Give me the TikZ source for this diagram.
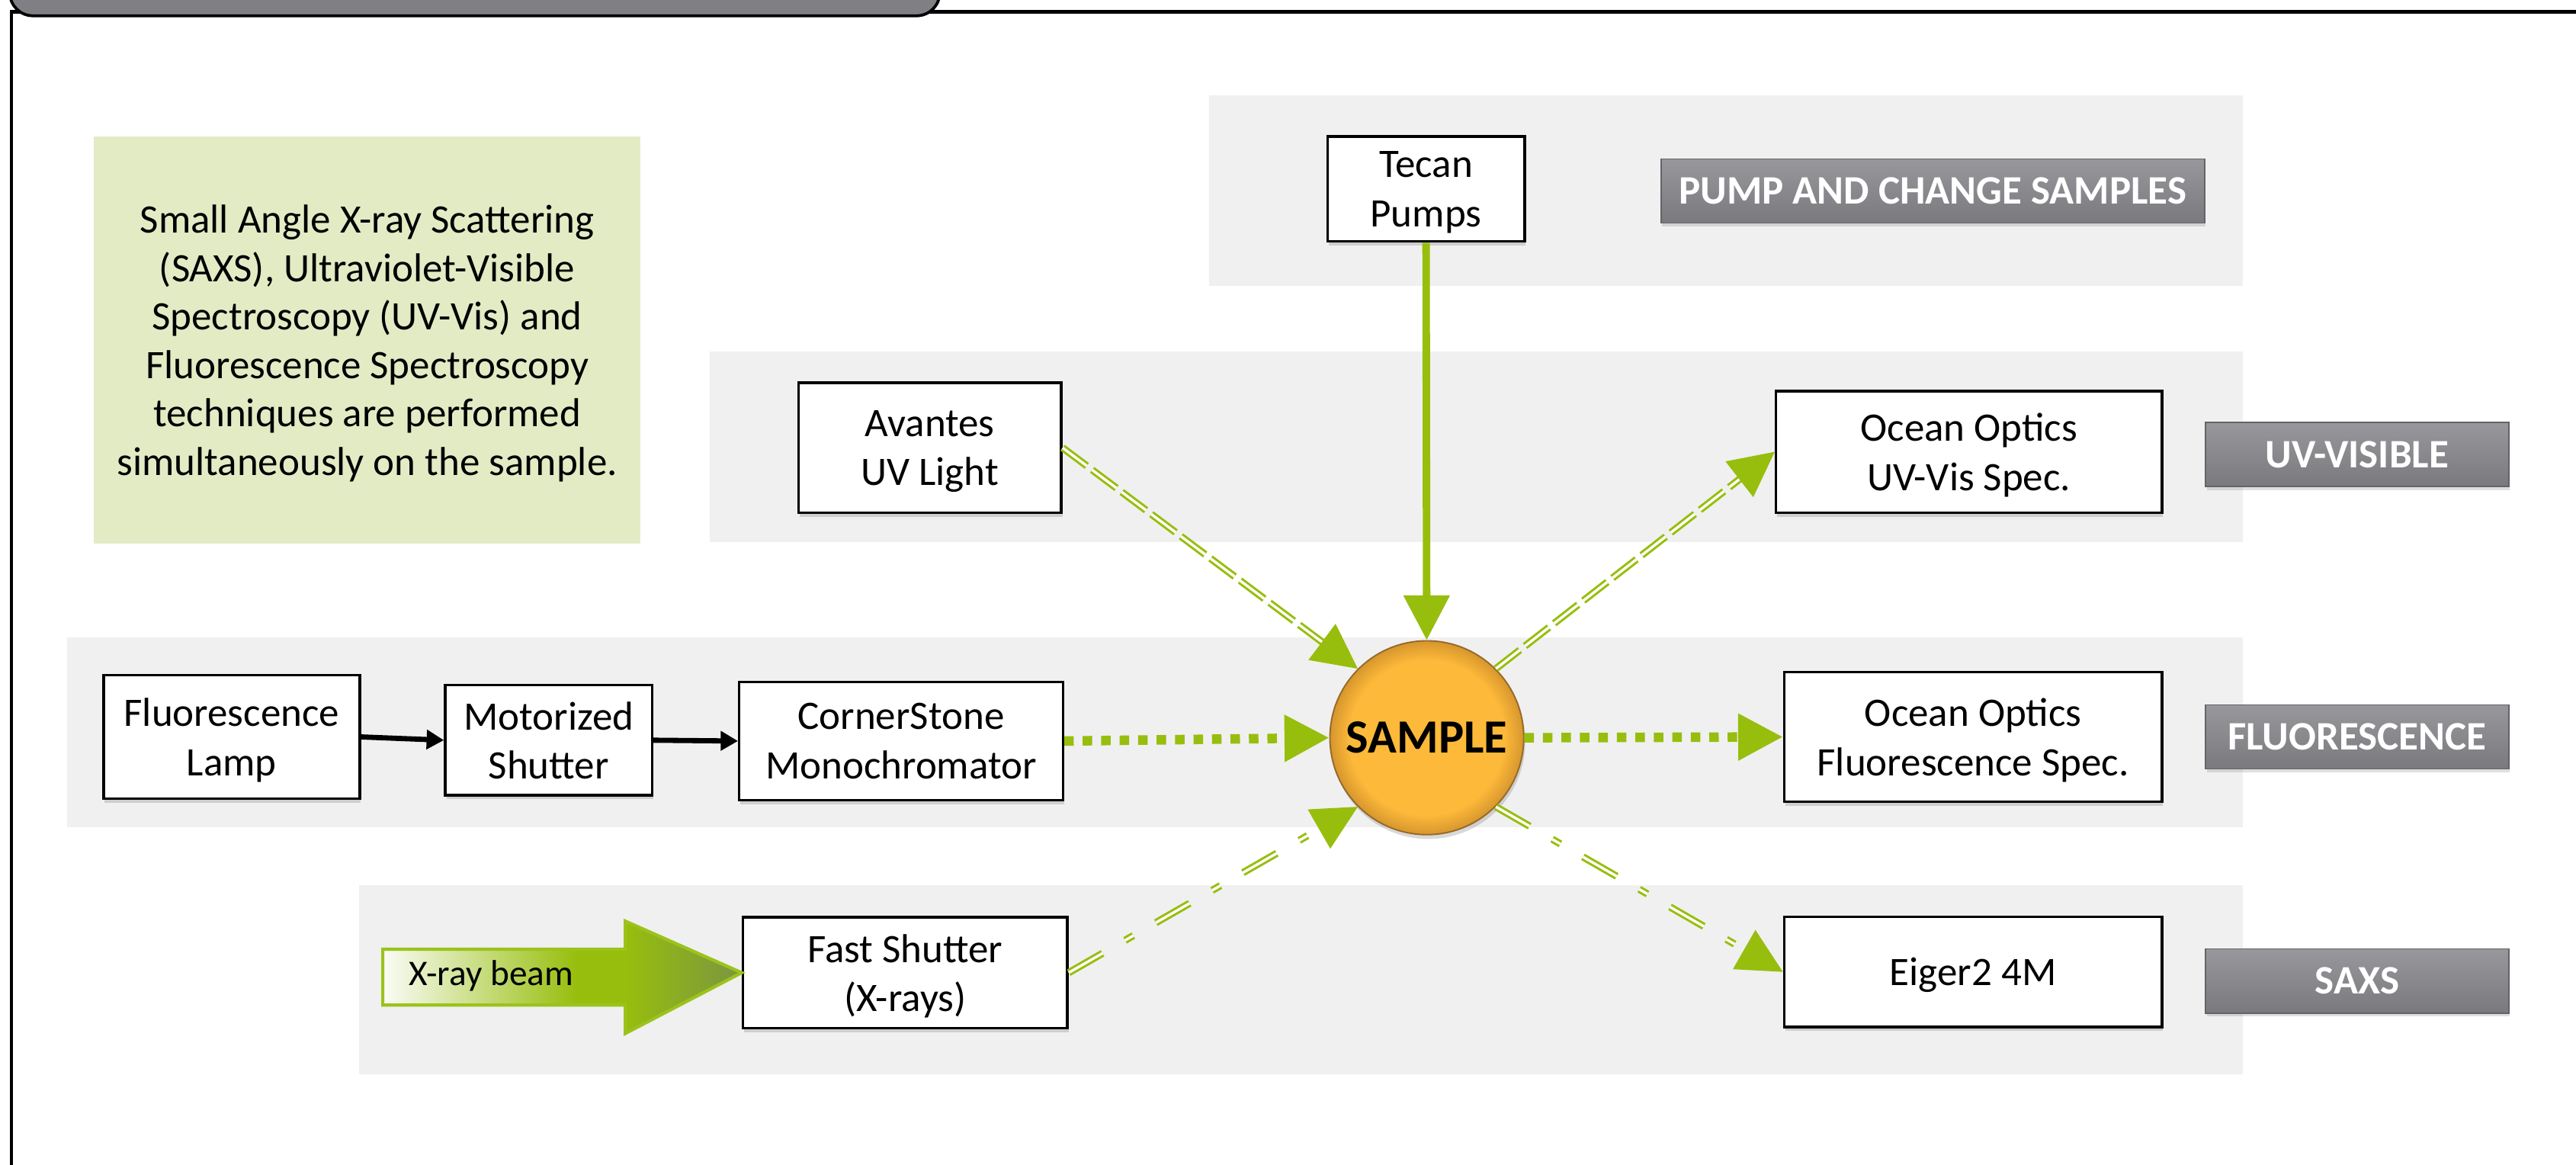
\documentclass[tikz,border=0pt]{standalone}
\usepackage{fontspec}
\setmainfont{Carlito}
\usetikzlibrary{arrows.meta,shadows}
\definecolor{bandgray}{RGB}{240,240,240}
\definecolor{signalgreen}{RGB}{151,190,13}
\definecolor{notegreen}{RGB}{227,235,197}
\definecolor{sampleorange}{RGB}{253,185,58}
\definecolor{sampledark}{RGB}{214,150,45}
\definecolor{sampleedge}{RGB}{150,105,40}
\definecolor{tabgray}{RGB}{128,127,132}
\definecolor{tagtop}{RGB}{152,151,156}
\definecolor{tagbottom}{RGB}{122,121,126}
\definecolor{tagedge}{RGB}{100,99,104}
\definecolor{beampale}{RGB}{250,252,246}
\definecolor{beamlight}{RGB}{141,203,76}
\definecolor{beamdark}{RGB}{122,150,64}
\definecolor{beamedge}{RGB}{155,195,28}
\pgfdeclareradialshading{sampleshading}{\pgfpoint{0bp}{0bp}}{color(0bp)=(sampleorange); color(20bp)=(sampleorange); color(25bp)=(sampledark); color(50bp)=(sampledark)}

\begin{document}
\begin{tikzpicture}[x=0.02cm, y=-0.02cm,
  box/.style={draw, line width=0.9pt, fill=white, align=center, inner sep=1pt, text depth=0pt,
    font=\fontsize{14}{17}\selectfont,
    drop shadow={shadow xshift=0.4pt, shadow yshift=-1.4pt, opacity=0.3}},
  note/.style={fill=notegreen, align=center, inner sep=0pt, text depth=0pt, font=\fontsize{14}{16.8}\selectfont},
  tag/.style={draw=tagedge, line width=0.5pt, top color=tagtop, bottom color=tagbottom,
    text=white, font=\bfseries\fontsize{14}{17}\selectfont, minimum height=0.78cm, inner sep=1pt,
    drop shadow={shadow xshift=0.4pt, shadow yshift=-1.2pt, opacity=0.25}},
  sample/.style={circle, minimum size=2.36cm, inner sep=0pt, shading=sampleshading,
    draw=sampleedge, line width=0.5pt, font=\bfseries\fontsize{16.5}{19}\selectfont,
    drop shadow={shadow xshift=0.5pt, shadow yshift=-1.5pt, opacity=0.3}},
  blackflow/.style={line width=1.8pt, -{Triangle[length=6pt, width=6.5pt]}},
  greenflow/.style={signalgreen, -{Triangle[length=15.5pt, width=15.5pt]}},
  solidflow/.style={greenflow, line width=2.6pt},
  dotflow/.style={greenflow, line width=3.3pt, dash pattern=on 3.3pt off 3.1pt},
  dashflow/.style={greenflow, double=white, line width=0.8pt, double distance=0.9pt,
    dash pattern=on 10.5pt off 2.3pt},
  dotdashflow/.style={greenflow, double=white, line width=0.8pt, double distance=0.9pt,
    dash pattern=on 13.5pt off 9pt on 3.3pt off 9pt}]
\useasboundingbox (0,0) rectangle (1568,708.6);
\clip (0,0) rectangle (1568,708.6);
\draw[line width=1.2pt] (7,740) -- (7,7.3) -- (1600,7.3);
\draw[fill=tabgray, line width=1pt, rounded corners=8pt] (6,-40) rectangle (572,9.6);

\fill[bandgray] (736,58) rectangle (1365,174);
\fill[bandgray] (432,214) rectangle (1365,330);
\fill[bandgray] (41,388) rectangle (1365,503.5);
\fill[bandgray] (218.6,538.7) rectangle (1365,654);

\node[note, minimum width=6.66cm, minimum height=4.96cm] (note) at (223.5,207) {Small Angle X-ray Scattering\\(SAXS), Ultraviolet-Visible\\Spectroscopy (UV-Vis) and\\Fluorescence Spectroscopy\\techniques are performed\\simultaneously on the sample.};

\node[box, minimum width=2.4cm, minimum height=1.28cm] (tecan) at (868,115) {Tecan\\Pumps};
\node[box, minimum width=3.2cm, minimum height=1.58cm] (avantes) at (566,272.5) {Avantes\\UV Light};
\node[box, minimum width=4.7cm, minimum height=1.48cm] (uvspec) at (1198.5,275) {Ocean Optics\\UV-Vis Spec.};
\node[box, minimum width=3.12cm, minimum height=1.5cm] (lamp) at (141,448.5) {Fluorescence\\Lamp};
\node[box, minimum width=2.52cm, minimum height=1.34cm] (shutter) at (334,450.5) {Motorized\\Shutter};
\node[box, minimum width=3.94cm, minimum height=1.44cm] (mono) at (548.5,451) {CornerStone\\Monochromator};
\node[box, minimum width=4.6cm, minimum height=1.58cm] (fluorspec) at (1201,448.5) {Ocean Optics\\Fluorescence Spec.};
\node[box, minimum width=3.95cm, minimum height=1.35cm] (fastshutter) at (551,592) {Fast Shutter\\(X-rays)};
\node[box, minimum width=4.6cm, minimum height=1.34cm] (eiger) at (1201,591.5) {Eiger2 4M};
\node[sample] (sample) at (868.5,449) {SAMPLE};

\node[tag, minimum width=6.62cm] (pumptag) at (1176.5,116.25) {PUMP AND CHANGE SAMPLES};
\node[tag, minimum width=3.69cm] (uvtag) at (1434.75,276.7) {UV-VISIBLE};
\node[tag, minimum width=3.69cm] (fluortag) at (1434.75,448.5) {FLUORESCENCE};
\node[tag, minimum width=3.69cm] (saxstag) at (1434.75,597) {SAXS};

\shade[left color=beampale, right color=signalgreen] (233,577.7) rectangle (351,611.7);
\fill[signalgreen] (351,577.7) rectangle (381,611.7);
\shade[left color=signalgreen, middle color=beamlight, right color=beamdark] (380.6,560.6) -- (fastshutter.west) -- (380.6,629) -- cycle;
\draw[beamedge, line width=1.1pt] (233,577.7) -- (380.6,577.7) -- (380.6,560.6) -- (fastshutter.west) -- (380.6,629) -- (380.6,611.7) -- (233,611.7) -- cycle;
\node[font=\fontsize{12.5}{15}\selectfont] (beam) at (299,594) {X-ray beam};

\draw[blackflow] (lamp.east) -- (shutter.west);
\draw[blackflow] (shutter.east) -- (mono.west);
\draw[solidflow] (tecan) -- (sample);
\draw[dashflow] (avantes.east) -- (sample.135);
\draw[dashflow] (sample.45) -- (uvspec.west);
\draw[dotflow] (mono.east) -- (sample.west);
\draw[dotflow] (sample.east) -- (fluorspec.west);
\draw[dotdashflow] (fastshutter.east) -- (sample.225);
\draw[dotdashflow] (sample.-45) -- (eiger.west);
\end{tikzpicture}
\end{document}
